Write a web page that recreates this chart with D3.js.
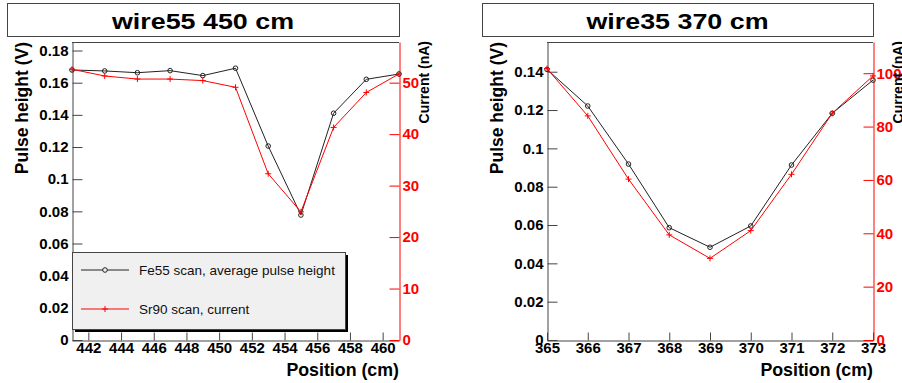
<!DOCTYPE html>
<html>
<head>
<meta charset="utf-8">
<script src="https://cdn.jsdelivr.net/npm/d3@7"></script>
<style>
    body { margin: 0; background: #fff; }
    svg text { font-family: "Liberation Sans", Arial, sans-serif; }
</style>
</head>
<body>
<svg id="chart" width="902" height="383"></svg>
<script>
// wire55 scan
var posA = [441, 443, 445, 447, 449, 451, 453, 455, 457, 459, 461];
var pulseA = [0.1679, 0.1673, 0.1662, 0.1675, 0.1644, 0.169, 0.1206, 0.0777, 0.141, 0.1621, 0.1654];
var currentA = [52.6, 51.3, 50.7, 50.7, 50.4, 49.1, 32.3, 24.9, 41.3, 48.1, 51.7];
var xTicksA = [442, 444, 446, 448, 450, 452, 454, 456, 458, 460];
var yTicksA = [0, 0.02, 0.04, 0.06, 0.08, 0.1, 0.12, 0.14, 0.16, 0.18];
var rTicksA = [0, 10, 20, 30, 40, 50];

// wire35 scan
var posB = [365, 366, 367, 368, 369, 370, 371, 372, 373];
var pulseB = [0.1412, 0.1221, 0.0918, 0.0586, 0.0484, 0.0595, 0.0913, 0.1183, 0.1356];
var currentB = [101.7, 84.0, 60.3, 39.4, 30.6, 41.0, 62.1, 85.0, 99.0];
var xTicksB = [365, 366, 367, 368, 369, 370, 371, 372, 373];
var yTicksB = [0, 0.02, 0.04, 0.06, 0.08, 0.1, 0.12, 0.14];
var rTicksB = [0, 20, 40, 60, 80, 100];

var legendLabels = ['Fe55 scan, average pulse height', 'Sr90 scan, current'];

var svg = d3.select('#chart');
var frameColor = '#444';
var red = '#ff0000';

function fmt(d) {
    return String(+d.toFixed(3));
}

function minorTicks(from, to, step) {
    return d3.range(from, to + step / 2, step).map(function (v) { return +v.toFixed(4); });
}

function styleAxis(g, color, size) {
    g.selectAll('.domain').attr('stroke', color);
    g.selectAll('.tick line').attr('stroke', color);
    g.selectAll('.tick text')
        .attr('fill', color == red ? red : '#000')
        .attr('font-family', '"Liberation Sans", Arial, sans-serif')
        .attr('font-weight', 'bold')
        .attr('font-size', size);
}

function drawPanel(p) {
    var g = svg.append('g');
    var x = d3.scaleLinear().domain(p.xDomain).range([p.left, p.right]);
    var y = d3.scaleLinear().domain(p.yDomain).range([p.bottom, p.top]);
    var yr = d3.scaleLinear().domain(p.rDomain).range([p.bottom, p.top]);

    // title box
    g.append('rect')
        .attr('x', p.titleLeft + 0.5).attr('y', 3.5)
        .attr('width', p.titleRight - p.titleLeft).attr('height', 33)
        .attr('fill', '#fff').attr('stroke', frameColor);
    g.append('text')
        .attr('x', (p.titleLeft + p.titleRight) / 2).attr('y', 28.5)
        .attr('text-anchor', 'middle')
        .attr('font-size', 22).attr('font-weight', 'bold')
        .attr('textLength', 182).attr('lengthAdjust', 'spacingAndGlyphs')
        .text(p.title);

    // frame top
    g.append('line')
        .attr('x1', p.left).attr('x2', p.right)
        .attr('y1', p.top + 0.5).attr('y2', p.top + 0.5)
        .attr('stroke', frameColor);

    // left axis (pulse height)
    var ay = g.append('g').attr('transform', 'translate(' + (p.left + 0.5) + ',0)');
    ay.call(d3.axisLeft(y).tickValues(p.yMinor).tickSize(-5).tickSizeOuter(0).tickFormat(''));
    ay.call(d3.axisLeft(y).tickValues(p.yTicks).tickSize(-10).tickSizeOuter(0).tickPadding(4).tickFormat(fmt));
    styleAxis(ay, frameColor, 15);

    // bottom axis (position)
    var ax = g.append('g').attr('transform', 'translate(0,' + (p.bottom + 0.5) + ')');
    ax.call(d3.axisBottom(x).tickValues(p.xMinor).tickSize(-4).tickSizeOuter(0).tickFormat(''));
    ax.call(d3.axisBottom(x).tickValues(p.xTicks).tickSize(-8).tickSizeOuter(0).tickPadding(2).tickFormat(fmt));
    styleAxis(ax, frameColor, 15);

    // right axis (current)
    var ar = g.append('g').attr('transform', 'translate(' + (p.right + 0.5) + ',0)');
    ar.call(d3.axisRight(yr).tickValues(p.rMinor).tickSize(-5).tickSizeOuter(0).tickFormat(''));
    ar.call(d3.axisRight(yr).tickValues(p.rTicks).tickSize(-10).tickSizeOuter(0).tickPadding(3).tickFormat(fmt));
    styleAxis(ar, red, 15);

    // axis titles
    g.append('text')
        .attr('transform', 'translate(' + (p.left - 44) + ',' + p.top + ') rotate(-90)')
        .attr('text-anchor', 'end')
        .attr('font-size', 17.5).attr('font-weight', 'bold')
        .text('Pulse height (V)');
    g.append('text')
        .attr('transform', 'translate(' + (p.right + 30) + ',' + (p.top - 1) + ') rotate(-90)')
        .attr('text-anchor', 'end')
        .attr('font-size', 14).attr('font-weight', 'bold')
        .text('Current (nA)');
    g.append('text')
        .attr('x', p.right).attr('y', 375.5)
        .attr('text-anchor', 'end')
        .attr('font-size', 17.8).attr('font-weight', 'bold')
        .text('Position (cm)');

    // pulse height graph
    var blackLine = d3.line()
        .x(function (d, i) { return x(p.pos[i]); })
        .y(function (d) { return y(d); });
    g.append('path').datum(p.pulse)
        .attr('d', blackLine)
        .attr('fill', 'none').attr('stroke', '#222').attr('stroke-width', 1);
    g.selectAll('.pm').data(p.pulse).enter().append('circle')
        .attr('cx', function (d, i) { return x(p.pos[i]); })
        .attr('cy', function (d) { return y(d); })
        .attr('r', 2.3)
        .attr('fill', 'none').attr('stroke', '#222');

    // current graph
    var redLine = d3.line()
        .x(function (d, i) { return x(p.pos[i]); })
        .y(function (d) { return yr(d); });
    g.append('path').datum(p.current)
        .attr('d', redLine)
        .attr('fill', 'none').attr('stroke', red).attr('stroke-width', 1);
    g.selectAll('.cm').data(p.current).enter().append('path')
        .attr('transform', function (d, i) { return 'translate(' + x(p.pos[i]) + ',' + yr(d) + ')'; })
        .attr('d', 'M-3,0H3M0,-3V3')
        .attr('stroke', red).attr('stroke-width', 1);

    if (p.legend) drawLegend(g, p);
}

function drawLegend(g, p) {
    var lx = p.left, ly = 252, lw = 273, lh = 77;
    g.append('rect')
        .attr('x', lx + 3).attr('y', ly + 3)
        .attr('width', lw).attr('height', lh)
        .attr('fill', '#000');
    g.append('rect')
        .attr('x', lx + 0.5).attr('y', ly + 0.5)
        .attr('width', lw).attr('height', lh)
        .attr('fill', '#f0f0f0').attr('stroke', frameColor);

    var rows = [ly + 18, ly + 57];
    // black entry
    g.append('line').attr('x1', lx + 9).attr('x2', lx + 57)
        .attr('y1', rows[0]).attr('y2', rows[0]).attr('stroke', '#222');
    g.append('circle').attr('cx', lx + 33).attr('cy', rows[0]).attr('r', 2.3)
        .attr('fill', '#f0f0f0').attr('stroke', '#222');
    // red entry
    g.append('line').attr('x1', lx + 9).attr('x2', lx + 57)
        .attr('y1', rows[1]).attr('y2', rows[1]).attr('stroke', red);
    g.append('path').attr('transform', 'translate(' + (lx + 33) + ',' + rows[1] + ')')
        .attr('d', 'M-3,0H3M0,-3V3').attr('stroke', red);

    legendLabels.forEach(function (t, i) {
        g.append('text')
            .attr('x', lx + 67).attr('y', rows[i]).attr('dy', '0.35em')
            .attr('font-size', 13.5)
            .attr('fill', '#111')
            .text(t);
    });
}

drawPanel({
    title: 'wire55 450 cm',
    titleLeft: 7, titleRight: 399,
    left: 72, right: 399, top: 42, bottom: 340,
    xDomain: [441, 461], yDomain: [0, 0.1853], rDomain: [0, 57.9],
    pos: posA, pulse: pulseA, current: currentA,
    xTicks: xTicksA, yTicks: yTicksA, rTicks: rTicksA,
    xMinor: minorTicks(441, 461, 0.5),
    yMinor: minorTicks(0, 0.184, 0.004),
    rMinor: minorTicks(0, 56, 2),
    legend: true
});

drawPanel({
    title: 'wire35 370 cm',
    titleLeft: 482, titleRight: 873,
    left: 547, right: 873, top: 42, bottom: 340,
    xDomain: [365, 373], yDomain: [0, 0.1555], rDomain: [0, 111.7],
    pos: posB, pulse: pulseB, current: currentB,
    xTicks: xTicksB, yTicks: yTicksB, rTicks: rTicksB,
    xMinor: minorTicks(365, 373, 0.2),
    yMinor: minorTicks(0, 0.152, 0.004),
    rMinor: minorTicks(0, 108, 4),
    legend: false
});
</script>
</body>
</html>
